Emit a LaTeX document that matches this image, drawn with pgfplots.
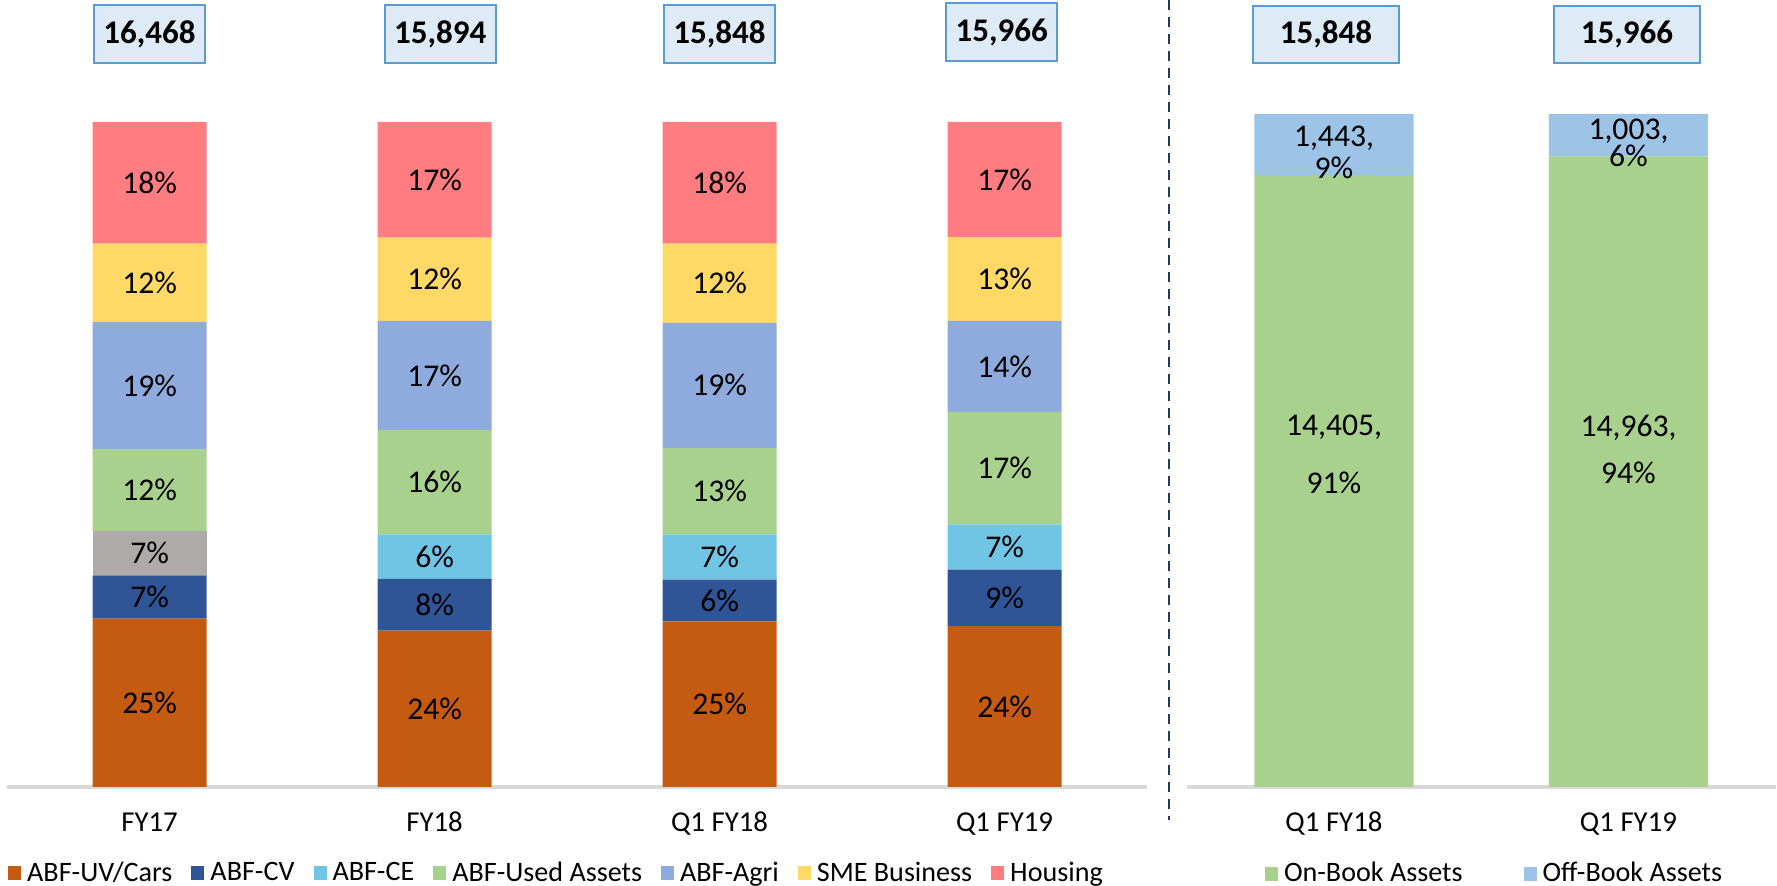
\documentclass[border=0pt]{standalone}
\usepackage{pgfplots}
\pgfplotsset{compat=1.18}
\usepackage{pgfplotstable}
\usepackage{fontspec}
\setmainfont{Carlito}

\definecolor{cUV}{RGB}{197,90,17}
\definecolor{cCV}{RGB}{47,85,151}
\definecolor{cCE}{RGB}{112,197,228}
\definecolor{cGR}{RGB}{174,170,170}
\definecolor{cUsed}{RGB}{169,209,142}
\definecolor{cAgri}{RGB}{143,170,220}
\definecolor{cSME}{RGB}{255,217,102}
\definecolor{cHou}{RGB}{255,124,128}
\definecolor{cOff}{RGB}{157,195,230}
\definecolor{boxfill}{RGB}{222,235,247}
\definecolor{boxdraw}{RGB}{91,155,213}
\definecolor{axgray}{RGB}{217,217,217}
\definecolor{dashc}{RGB}{32,56,100}

% left panel: share of each segment (%)
\pgfplotstableread{
x uv cv ce gr used agri sme hou
0 25.3 6.5 0 6.7 12.3 19.1 11.8 18.3
1 23.5 7.8 6.7 0 15.7 16.4 12.5 17.4
2 24.9 6.3 6.8 0 13.0 18.8 11.9 18.3
3 24.2 8.5 6.8 0 16.9 13.7 12.6 17.3
}\leftdata
% left panel: printed labels at the middle of each segment
\pgfplotstableread{
x y lab
0 12.65 25
0 28.55 7
0 35.15 7
0 44.65 12
0 60.35 19
0 75.80 12
0 90.85 18
1 11.75 24
1 27.40 8
1 34.65 6
1 45.85 16
1 61.90 17
1 76.35 12
1 91.30 17
2 12.45 25
2 28.05 6
2 34.60 7
2 44.50 13
2 60.40 19
2 75.75 12
2 90.85 18
3 12.10 24
3 28.45 9
3 36.10 7
3 47.95 17
3 63.25 14
3 76.40 13
3 91.35 17
}\leftlabels

% right panel: on-book / off-book (%)
\pgfplotstableread{
x on off
0 90.9 9.1
1 93.7 6.3
}\rightdata
\pgfplotstableread{
x y lab
0 53.5 14,405
1 53.3 14,963
0 96.4 1,443
1 97.5 1,003
}\rightvals
\pgfplotstableread{
x y lab
0 45.2 91
1 46.7 94
0 92.0 9
1 93.8 6
}\rightpcts

\tikzset{
  totbox/.style={fill=boxfill, draw=boxdraw, line width=0.7pt, inner sep=0pt,
    font=\bfseries\fontsize{9.4}{11}\selectfont, text=black},
}
\pgfplotsset{
  leftgeom/.style={at={(0.071cm,0.99cm)}, anchor=south west,
    scale only axis, width=11.40cm, height=6.65cm,
    xmin=-0.5, xmax=3.5, ymin=0, ymax=100},
  rightgeom/.style={at={(11.8675cm,0.99cm)}, anchor=south west,
    scale only axis, width=5.89cm, height=6.73cm,
    xmin=-0.5, xmax=1.5, ymin=0, ymax=100},
  lab/.style={draw=none, mark=none, point meta=explicit symbolic,
    nodes near coords={#1},
    every node near coord/.append style={anchor=center, text=black,
      font=\fontsize{9}{11}\selectfont}},
  baseaxis/.style={
    axis x line*=bottom, axis y line=none,
    x axis line style={draw=axgray, line width=0.9pt},
    major tick length=0pt, ytick=\empty,
    xticklabel style={font=\fontsize{8.2}{10}\selectfont, anchor=base, yshift=-0.45cm},
    clip=false},
  legstyle/.style={
    legend style={draw=none, fill=none, anchor=center,
      legend columns=-1, font=\fontsize{8}{9.5}\selectfont, inner sep=0pt,
      nodes={inner sep=0.06cm},
      /tikz/every even column/.append style={column sep=#1}},
    legend image code/.code={\fill[##1] (0cm,-0.065cm) rectangle (0.13cm,0.075cm);}},
}

\begin{document}
\begin{tikzpicture}
\useasboundingbox (0,0) rectangle (17.77cm,8.86cm);

% ---- left panel: stacked bars
\begin{axis}[
  leftgeom, baseaxis,
  ybar stacked, bar width=0.4,
  xtick={0,1,2,3}, xticklabels={FY17,FY18,Q1 FY18,Q1 FY19},
]
\addplot[fill=cUV, draw=none] table[x=x,y=uv]{\leftdata};
\addplot[fill=cCV, draw=none] table[x=x,y=cv]{\leftdata};
\addplot[fill=cCE, draw=none] table[x=x,y=ce]{\leftdata};
\addplot[fill=cGR, draw=none] table[x=x,y=gr]{\leftdata};
\addplot[fill=cUsed, draw=none] table[x=x,y=used]{\leftdata};
\addplot[fill=cAgri, draw=none] table[x=x,y=agri]{\leftdata};
\addplot[fill=cSME, draw=none] table[x=x,y=sme]{\leftdata};
\addplot[fill=cHou, draw=none] table[x=x,y=hou]{\leftdata};

\node[totbox, minimum width=1.11cm, minimum height=0.58cm] at (axis cs:0,113.2) {16,468};
\node[totbox, minimum width=1.11cm, minimum height=0.58cm] at (axis cs:1.02,113.2) {15,894};
\node[totbox, minimum width=1.11cm, minimum height=0.58cm] at (axis cs:2,113.2) {15,848};
\node[totbox, minimum width=1.11cm, minimum height=0.58cm] at (axis cs:2.99,113.5) {15,966};
\end{axis}

% ---- left panel: labels and legend
\begin{axis}[leftgeom, hide axis, clip=false, legstyle=0.13cm,
  legend style={at={(0.4837,-0.1308)}}]
\addlegendimage{fill=cUV, draw=none}\addlegendentry{ABF-UV/Cars}
\addlegendimage{fill=cCV, draw=none}\addlegendentry{ABF-CV}
\addlegendimage{fill=cCE, draw=none}\addlegendentry{ABF-CE}
\addlegendimage{fill=cUsed, draw=none}\addlegendentry{ABF-Used Assets}
\addlegendimage{fill=cAgri, draw=none}\addlegendentry{ABF-Agri}
\addlegendimage{fill=cSME, draw=none}\addlegendentry{SME Business}
\addlegendimage{fill=cHou, draw=none}\addlegendentry{Housing}
\addplot[lab={\pgfplotspointmeta\%}] table[x=x,y=y,meta=lab]{\leftlabels};
\end{axis}

% ---- right panel: stacked bars
\begin{axis}[
  rightgeom, baseaxis,
  ybar stacked, bar width=0.54,
  xtick={0,1}, xticklabels={Q1 FY18,Q1 FY19},
  legstyle=0.55cm, legend style={at={(0.526,-0.1293)}},
]
\addplot[fill=cUsed, draw=none] table[x=x,y=on]{\rightdata};
\addlegendentry{On-Book Assets}
\addplot[fill=cOff, draw=none] table[x=x,y=off]{\rightdata};
\addlegendentry{Off-Book Assets}

\node[totbox, minimum width=1.46cm, minimum height=0.57cm] at (axis cs:-0.027,111.8) {15,848};
\node[totbox, minimum width=1.46cm, minimum height=0.57cm] at (axis cs:0.995,111.8) {15,966};
\end{axis}

% ---- right panel: labels
\begin{axis}[rightgeom, hide axis, clip=false]
\addplot[lab={\pgfplotspointmeta,}] table[x=x,y=y,meta=lab]{\rightvals};
\addplot[lab={\pgfplotspointmeta\%}] table[x=x,y=y,meta=lab]{\rightpcts};
\end{axis}

\draw[dashc, line width=0.6pt, dash pattern=on 0.1cm off 0.07cm] (11.69cm,8.86cm) -- (11.69cm,0.66cm);
\end{tikzpicture}
\end{document}
